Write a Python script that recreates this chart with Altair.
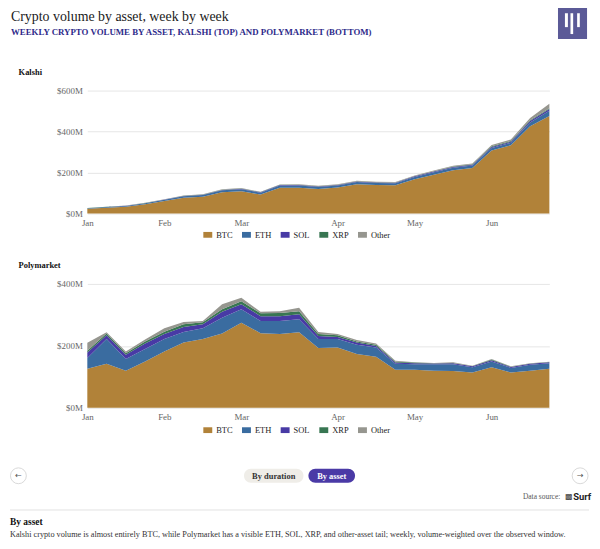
import altair as alt
import pandas as pd

SERIF = "Liberation Serif"
SANS = "Roboto"

WEEKS = ["2025-01-06", "2025-01-13", "2025-01-20", "2025-01-27", "2025-02-03",
         "2025-02-10", "2025-02-17", "2025-02-24", "2025-03-03", "2025-03-10",
         "2025-03-17", "2025-03-24", "2025-03-31", "2025-04-07", "2025-04-14",
         "2025-04-21", "2025-04-28", "2025-05-05", "2025-05-12", "2025-05-19",
         "2025-05-26", "2025-06-02", "2025-06-09", "2025-06-16", "2025-06-23"]
MONTHS = ["Jan", "Feb", "Mar", "Apr", "May", "Jun", "Jul", "Aug", "Sep", "Oct", "Nov", "Dec"]

ASSETS = ["BTC", "ETH", "SOL", "XRP", "Other"]
COLORS = ["#b18239", "#3a6ca0", "#483aa5", "#387652", "#96968f"]

# Kalshi weekly volume, $M
KALSHI_BTC = [22.7, 28.5, 33.2, 44.7, 61, 76.4, 82.1, 103.3, 108.9, 92.5, 125.3, 126.2, 119.6,
              127.3, 142.7, 138.9, 137.9, 167.5, 189.5, 211.5, 221.8, 307.5, 332.8, 426.5, 476]
KALSHI_ETH = [3, 3, 4, 5, 6, 8, 8, 10, 10, 9, 11, 11, 10, 10, 11, 10, 10, 11, 12, 12, 12, 12, 12, 18, 25]
KALSHI_SOL = [0.6, 0.7, 0.8, 1, 1.3, 1.6, 1.7, 2, 2.2, 2, 2.4, 2.5, 2.3, 2.4, 2.6, 2.5, 2.5, 3,
              3.4, 3.8, 4, 5.5, 6, 7, 9]
KALSHI_XRP = [0.3, 0.3, 0.4, 0.5, 0.7, 0.8, 0.9, 1.1, 1.2, 1, 1.3, 1.3, 1.2, 1.3, 1.4, 1.4, 1.4,
              1.7, 1.9, 2.1, 2.2, 3, 3.2, 3.5, 4]
KALSHI_OTHER = [0.4, 0.5, 0.6, 0.8, 1, 1.2, 1.3, 1.6, 1.7, 1.5, 2, 2, 1.9, 2, 2.3, 2.2, 2.2, 2.8,
                3.2, 3.6, 4, 6, 7, 11, 22]

# Polymarket weekly volume, $M
POLY_BTC = [126, 142, 120, 150, 182, 211, 222, 240, 275, 241, 238, 244, 193, 195, 174, 165, 123,
            123, 120, 119, 114, 131, 114, 120, 126]
POLY_ETH = [35, 80, 38, 40, 40, 34, 35, 51, 43, 39, 42, 42, 29, 27, 30, 30, 19, 18, 21, 22, 17,
            19, 15, 19, 18]
POLY_SOL = [18, 12, 13, 18, 16, 16, 13, 19, 16, 16, 16, 16, 10, 7, 7, 5, 4, 3, 2, 3, 3, 4, 3, 3, 3]
POLY_XRP = [5, 6, 5, 6, 8, 9, 6, 8, 10, 9, 10, 10, 6, 5, 3, 4, 3, 2, 1, 1, 1, 2, 1, 1, 1]
POLY_OTHER = [26, 4, 6, 7, 11, 7, 4, 16, 11, 5, 6, 11, 7, 4, 5, 4, 3, 1, 1, 2, 1, 2, 1, 1, 1]

# month tick positions: first week of each month
wk = pd.to_datetime(pd.Series(WEEKS))
TICKS = [i for i in range(len(WEEKS)) if i == 0 or wk[i].month != wk[i - 1].month]
LABELS = [MONTHS[wk[i].month - 1] if i in TICKS else "" for i in range(len(WEEKS))]
LABEL_EXPR = "[" + ",".join("'" + s + "'" for s in LABELS) + "][datum.value]"


def long_df(series):
    rows = []
    for k, (asset, vals) in enumerate(zip(ASSETS, series)):
        for i, v in enumerate(vals):
            rows.append({"w": i, "asset": asset, "k": k, "v": v})
    return pd.DataFrame(rows)


kalshi_df = long_df([KALSHI_BTC, KALSHI_ETH, KALSHI_SOL, KALSHI_XRP, KALSHI_OTHER])
poly_df = long_df([POLY_BTC, POLY_ETH, POLY_SOL, POLY_XRP, POLY_OTHER])

ONE = alt.Data(values=[{"a": 1}])


def txt(text, x, y, size, color, weight="normal", align="left", font=SERIF, baseline="alphabetic"):
    return alt.Chart(ONE).mark_text(
        text=text, align=align, baseline=baseline, font=font, fontSize=size,
        fontWeight=weight, color=color
    ).encode(x=alt.value(x), y=alt.value(y))


def rect(x, x2, y, y2, color, radius=0):
    return alt.Chart(ONE).mark_rect(color=color, cornerRadius=radius).encode(
        x=alt.value(x), x2=alt.value(x2), y=alt.value(y), y2=alt.value(y2))


def area(df, ymax, yvals, legend_y):
    return alt.Chart(df).mark_area(interpolate="linear").encode(
        x=alt.X("w:Q", scale=alt.Scale(domain=[0, len(WEEKS) - 1], nice=False, zero=False),
                axis=alt.Axis(values=TICKS, labelExpr=LABEL_EXPR, title=None, grid=False,
                              domain=False, ticks=False, labelPadding=5, labelFlush=False,
                              labelFont=SERIF, labelFontSize=9, labelColor="#666")),
        y=alt.Y("v:Q", stack="zero", scale=alt.Scale(domain=[0, ymax], nice=False),
                axis=alt.Axis(values=yvals, labelExpr="'$' + datum.value + 'M'", title=None,
                              grid=True, gridColor="#e6e6e6", gridWidth=1, domain=False,
                              ticks=False, labelPadding=5, labelFlush=False,
                              labelFont=SERIF, labelFontSize=9, labelColor="#666")),
        color=alt.Color("asset:N", scale=alt.Scale(domain=ASSETS, range=COLORS),
                        legend=alt.Legend(orient="none", legendX=117, legendY=legend_y,
                                          direction="horizontal", title=None,
                                          symbolType="M-1,-0.65H1V0.65H-1Z", symbolSize=81,
                                          symbolStrokeWidth=0, labelFont=SERIF,
                                          labelFontSize=8.5, labelColor="#222",
                                          labelOffset=4, columnPadding=6, gridAlign="all",
                                          padding=0)),
        order=alt.Order("k:Q", sort="ascending"),
    )


kalshi = alt.layer(
    area(kalshi_df, 600, [0, 200, 400, 600], 141),
    txt("Crypto volume by asset, week by week", -77, -70.5, 14, "#1a1a1a"),
    txt("WEEKLY CRYPTO VOLUME BY ASSET, KALSHI (TOP) AND POLYMARKET (BOTTOM)", -77, -56.3,
        8.9, "#2d2a8a", weight="bold"),
    rect(474.7, 504, -84, -52, "#5b5a97"),
    rect(481.7, 484.7, -78, -64, "white"),
    rect(487.3, 490, -78, -57, "white"),
    rect(494, 496.7, -78, -64, "white"),
    txt("Kalshi", -69.3, -16, 8.5, "#111", weight="bold"),
).properties(width=466, height=124)

footer = [
    txt("Polymarket", -69.3, -16, 8.5, "#111", weight="bold"),
    alt.Chart(ONE).mark_point(shape="circle", size=256, fill="white", stroke="#cfcfcf",
                              strokeWidth=0.8, opacity=1).encode(x=alt.value(-69.5), y=alt.value(193.5)),
    alt.Chart(ONE).mark_point(shape="circle", size=256, fill="white", stroke="#cfcfcf",
                              strokeWidth=0.8, opacity=1).encode(x=alt.value(497), y=alt.value(193.5)),
    txt("←", -69.5, 193.5, 8, "#555", align="center", font="DejaVu Sans", baseline="middle"),
    txt("→", 497, 193.5, 8, "#555", align="center", font="DejaVu Sans", baseline="middle"),
    rect(158, 218, 186.5, 200.5, "#efede8", radius=7),
    rect(223, 270, 186.5, 200.5, "#4a3aa6", radius=7),
    txt("By duration", 188, 193.5, 8.5, "#333", weight="bold", align="center", baseline="middle"),
    txt("By asset", 246.5, 193.5, 8.5, "white", weight="bold", align="center", baseline="middle"),
    txt("Data source:", 477, 215, 7.5, "#555", align="right", baseline="middle"),
    txt("▩", 485.5, 215, 8, "#333", align="center", font="DejaVu Sans", baseline="middle"),
    txt("Surf", 490, 215, 9.5, "#222", weight="bold", font=SANS, baseline="middle"),
    alt.Chart(ONE).mark_rule(color="#e2e2e2", strokeWidth=1).encode(
        x=alt.value(-78), x2=alt.value(506), y=alt.value(228)),
    txt("By asset", -78, 239.7, 9.5, "#111", weight="bold", baseline="middle"),
    txt("Kalshi crypto volume is almost entirely BTC, while Polymarket has a visible ETH, SOL, XRP, "
        "and other-asset tail; weekly, volume-weighted over the observed window.",
        -78, 253, 8.3, "#333", baseline="middle"),
]

poly = alt.layer(area(poly_df, 400, [0, 200, 400], 143), *footer).properties(width=466, height=125)

chart = alt.vconcat(kalshi, poly, spacing=71, bounds="flush").resolve_scale(
    color="independent").resolve_legend(color="independent").properties(
    padding={"top": -3, "left": 0, "right": 0, "bottom": 0}, background="white"
).configure_view(stroke=None)

chart.save("out.html", embed_options={"renderer": "svg", "actions": False})
